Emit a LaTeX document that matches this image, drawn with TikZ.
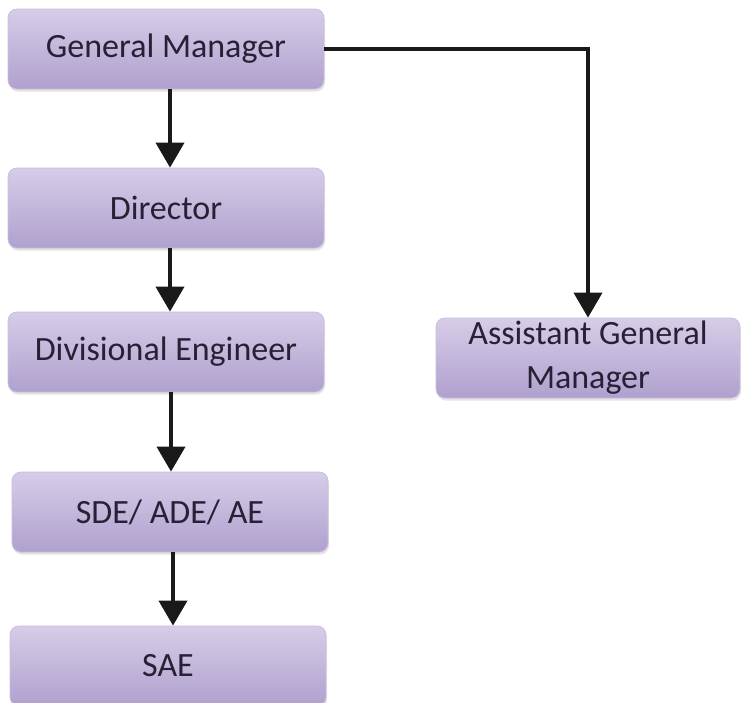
\documentclass[tikz,border=0pt]{standalone}
\usepackage{fontspec}
\setmainfont{Carlito}
\usetikzlibrary{arrows.meta,shadows}
\definecolor{boxtop}{RGB}{214,205,232}
\definecolor{boxbot}{RGB}{176,160,206}
\definecolor{boxline}{RGB}{200,190,222}
\definecolor{boxtext}{RGB}{40,32,52}
\tikzset{
	rankbox/.style={rectangle, rounded corners=9pt, draw=boxline, line width=0.8pt,
		top color=boxtop, bottom color=boxbot, text=boxtext,
		minimum width=316pt, minimum height=80pt, align=center,
		font=\fontsize{34}{44}\selectfont,
		drop shadow={opacity=0.22, shadow xshift=1pt, shadow yshift=-2.5pt}},
	link/.style={line width=4pt, draw=black!90, -{Triangle[width=28pt,length=25pt]}}
}
\begin{document}
\begin{tikzpicture}[x=1pt,y=-1pt]
		\useasboundingbox (0,0) rectangle (741,702);

		\node[rankbox] (gm)  at (166,49)  {General Manager};
		\node[rankbox] (dir) at (166,208) {Director};
		\node[rankbox] (de)  at (166,352) {Divisional Engineer};
		\node[rankbox] (sde) at (170,512) {SDE/ ADE/ AE};
		\node[rankbox] (sae) at (168,666) {SAE};
		\node[rankbox, minimum width=304pt, inner sep=2pt] (agm) at (588,358) {Assistant General\\Manager};

		\draw[link] (gm.south -| 170,0) -- (dir.north -| 170,0);
		\draw[link] (dir.south -| 170,0) -- (de.north -| 170,0);
		\draw[link] (de.south -| 171,0) -- (sde.north -| 171,0);
		\draw[link] (sde.south -| 173,0) -- (sae.north -| 173,0);
		\draw[link] (gm.east) -| (agm.north);

	\end{tikzpicture}
\end{document}
